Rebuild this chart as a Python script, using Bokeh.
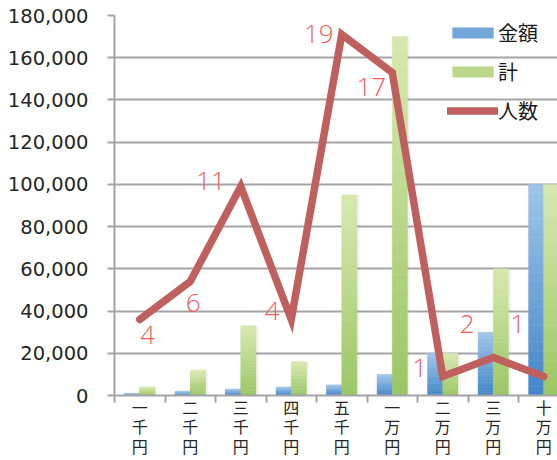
from bokeh.plotting import figure
from bokeh.models import (Range1d, FixedTicker, NumeralTickFormatter, Legend,
                          LegendItem, ColumnDataSource)
from bokeh.core.properties import value
from bokeh.embed import file_html
from bokeh.resources import INLINE

categories = ["一千円", "二千円", "三千円", "四千円", "五千円", "一万円", "二万円", "三万円", "十万円"]
kingaku = [1000, 2000, 3000, 4000, 5000, 10000, 20000, 30000, 100000]
kei = [4000, 12000, 33000, 16000, 95000, 170000, 20000, 60000, 100000]
ninzu = [4, 6, 11, 4, 19, 17, 1, 2, 1]
y_ticks = [0, 20000, 40000, 60000, 80000, 100000, 120000, 140000, 160000, 180000]

# label placement (screen px offsets from the point)
label_dx = [8, 3, -30, -19, -23, -21, -23, -26, -26]
label_dy = [15, 21, -6, -9, -1, 14, -9, -34, -53]

GRID = "#a3a3a7"
W, H = 557, 460
LEFT, TOP, BOTTOM = 114, 15, 65
CAT_PX = 50.5
x_end = (W - LEFT) / CAT_PX

p = figure(width=W, height=H, output_backend="svg", toolbar_location=None,
           x_range=Range1d(0, x_end), y_range=Range1d(0, 180000),
           min_border_left=LEFT, min_border_top=TOP, min_border_right=0,
           min_border_bottom=BOTTOM)
p.extra_y_ranges = {"n": Range1d(0, 20)}
p.outline_line_color = None
p.background_fill_color = "white"
p.border_fill_color = "white"

centers = [i + 0.5 for i in range(len(categories))]


def lerp(c0, c1, t):
    return "#%02x%02x%02x" % tuple(int(round(a + (b - a) * t)) for a, b in zip(c0, c1))


def gradient_source(vals, shift, c_bottom, c_top, n=24):
    xs, bs, ts, cs = [], [], [], []
    for c, v in zip(centers, vals):
        for k in range(n):
            xs.append(c + shift)
            bs.append(v * k / n)
            ts.append(v * (k + 1) / n)
            cs.append(lerp(c_bottom, c_top, (k + 0.5) / n))
    return ColumnDataSource(dict(x=xs, bottom=bs, top=ts, color=cs))


# faint bar shadows
for vals, shift in ((kingaku, -0.15), (kei, 0.15)):
    p.vbar(x=[c + shift + 0.05 for c in centers], top=vals, width=0.3,
           fill_color="#808080", fill_alpha=0.10, line_color=None)

blue_src = gradient_source(kingaku, -0.15, (66, 134, 201), (160, 198, 233))
green_src = gradient_source(kei, 0.15, (155, 198, 100), (216, 233, 176))

r_blue = p.vbar(x="x", bottom="bottom", top="top", width=0.3, source=blue_src,
                fill_color="color", line_color="color", line_width=0.5)
r_green = p.vbar(x="x", bottom="bottom", top="top", width=0.3, source=green_src,
                 fill_color="color", line_color="color", line_width=0.5)

line_src = ColumnDataSource(dict(x=centers, y=ninzu, t=[str(n) for n in ninzu],
                                 dx=label_dx, dy=label_dy))
r_line = p.line("x", "y", source=line_src, y_range_name="n", line_color="#c0605e",
                line_width=7.5, line_cap="round", line_join="miter")
p.text("x", "y", text="t", source=line_src, y_range_name="n", x_offset="dx", y_offset="dy",
       text_color="#f55a5a", text_font=value("'Open Sans Light', 'Open Sans'"),
       text_font_size="26px", text_align="center", text_baseline="middle")

# axes
xa = p.xaxis[0]
xa.ticker = FixedTicker(ticks=centers, minor_ticks=list(range(len(categories) + 1)))
xa.major_label_overrides = {c: "\n".join(cat) for c, cat in zip(centers, categories)}
xa.major_tick_out = 0
xa.major_tick_in = 0
xa.minor_tick_out = 7
xa.minor_tick_in = 0
xa.minor_tick_line_color = GRID
xa.minor_tick_line_width = 2
xa.axis_line_color = GRID
xa.axis_line_width = 2
xa.major_label_standoff = -8
xa.major_label_text_font = "Noto Sans CJK JP"
xa.major_label_text_font_size = "16px"
xa.major_label_text_line_height = 0.82
xa.major_label_text_color = "#262626"

ya = p.yaxis[0]
ya.ticker = FixedTicker(ticks=y_ticks)
ya.formatter = NumeralTickFormatter(format="0,0")
ya.major_tick_out = 7
ya.major_tick_in = 0
ya.minor_tick_line_color = None
ya.major_tick_line_color = GRID
ya.major_tick_line_width = 2
ya.axis_line_color = GRID
ya.axis_line_width = 2
ya.major_label_standoff = 19
ya.major_label_text_font = "DejaVu Sans"
ya.major_label_text_font_size = "19.5px"
ya.major_label_text_color = "#262626"

p.xgrid.visible = False
p.ygrid.ticker = FixedTicker(ticks=y_ticks)
p.ygrid.grid_line_color = GRID
p.ygrid.grid_line_width = 2

legend = Legend(items=[
    LegendItem(label="金額", renderers=[r_blue], index=12),
    LegendItem(label="計", renderers=[r_green], index=12),
    LegendItem(label="人数", renderers=[r_line]),
], location=(333, 270))
legend.padding = 0
legend.margin = 0
legend.border_line_color = None
legend.background_fill_alpha = 0
legend.label_text_font = "Noto Sans CJK JP"
legend.label_text_font_size = "20px"
legend.label_text_color = "#1a1a1a"
legend.glyph_width = 51
legend.glyph_height = 13
legend.label_standoff = 0
legend.spacing = 10
p.add_layout(legend)

open("out.html", "w").write(file_html(p, INLINE))
